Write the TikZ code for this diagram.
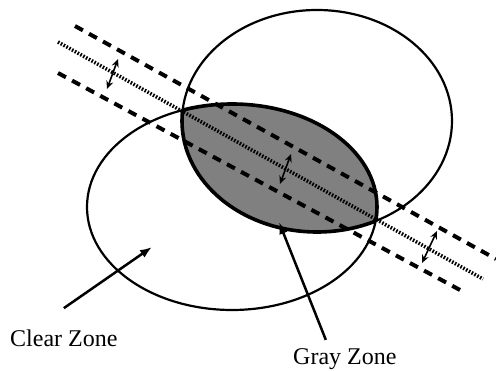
\documentclass[tikz,border=0pt]{standalone}
\usepackage{fontspec}
\setmainfont{Liberation Serif}
\usetikzlibrary{arrows.meta}

\begin{document}
\begin{tikzpicture}[
  x=1pt, y=-1pt,
  zone/.style={line width=2.2pt},
  lensrim/.style={line width=3.6pt},
  band/.style={line width=4pt, dash pattern=on 9pt off 7pt},
  axis/.style={line width=3.6pt, dash pattern=on 1.6pt off 1.6pt},
  width/.style={{Stealth[length=8pt,width=7pt]}-{Stealth[length=8pt,width=7pt]}, line width=1.6pt},
  pointer/.style={-{Latex[length=12pt,width=9pt]}, line width=2.5pt},
  label/.style={font=\fontsize{24}{28}\selectfont, inner sep=0pt, anchor=base west},
]
  \useasboundingbox (0,0) rectangle (496,371);

  % overlap of the two zones
  \begin{scope}
    \clip (317,121) ellipse [x radius=135pt, y radius=111pt];
    \fill[black!50] (232,207) ellipse [x radius=145pt, y radius=103pt];
    \draw[lensrim] (232,207) ellipse [x radius=145pt, y radius=103pt];
  \end{scope}
  \begin{scope}
    \clip (232,207) ellipse [x radius=145pt, y radius=103pt];
    \draw[lensrim] (317,121) ellipse [x radius=135pt, y radius=111pt];
  \end{scope}

  % the two zones
  \draw[zone] (317,121) ellipse [x radius=135pt, y radius=111pt];
  \draw[zone] (232,207) ellipse [x radius=145pt, y radius=103pt];

  % band and its axis
  \coordinate (t1) at (75,26);  \coordinate (t2) at (496,259);
  \coordinate (m1) at (58,42);  \coordinate (m2) at (483,279);
  \coordinate (b1) at (58,73);  \coordinate (b2) at (460,290);
  \draw[band] (t1) -- (t2);
  \draw[axis] (m1) -- (m2);
  \draw[band] (b1) -- (b2);

  % band width
  \draw[width] (118,59) -- (107,89);
  \draw[width] (291,154) -- (280,184);
  \draw[width] (437,231) -- (422,263);

  % labels
  \node[label] (clear) at (10,347) {Clear Zone};
  \node[label] (gray) at (293,365) {Gray Zone};
  \coordinate (cz) at (152,247);
  \coordinate (gz) at (279,222);
  \draw[pointer] ([yshift=22pt]clear.north) -- (cz);
  \draw[pointer] ([xshift=-19pt,yshift=9pt]gray.north) -- (gz);
\end{tikzpicture}
\end{document}
